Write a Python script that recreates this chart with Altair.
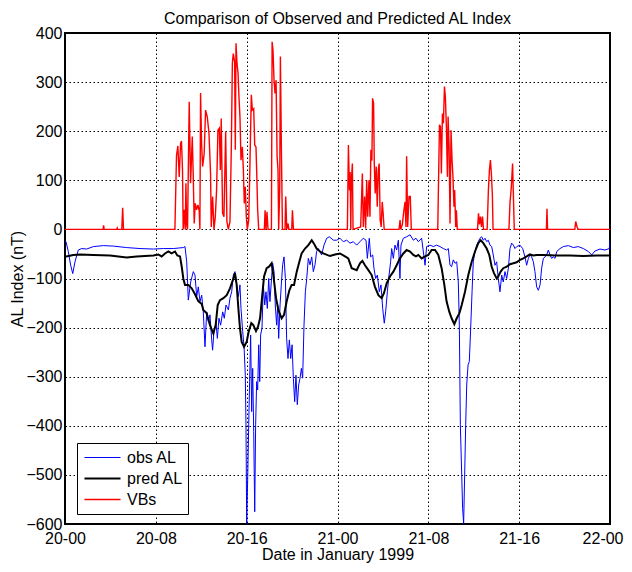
import altair as alt
import pandas as pd

# ---- data (hours since 20-00, nT) ----
obs_t = [0.00, 0.09, 0.29, 0.50, 0.68, 0.88, 1.17, 1.47, 1.91, 2.50, 3.38, 4.26, 5.43, 6.61, 7.78, 8.66,
         9.25, 9.54, 10.42, 10.57, 10.72, 10.86, 11.07, 11.30, 11.45, 11.60, 11.74, 11.89, 12.04, 12.18,
         12.33, 12.48, 12.63, 12.77, 12.92, 13.00, 13.12, 13.30, 13.42, 13.56, 13.71, 13.89, 14.03, 14.18,
         14.39, 14.53, 14.68, 14.83, 14.97, 15.12, 15.27, 15.41, 15.50, 15.65, 15.77, 15.88, 15.94, 16.00,
         16.09, 16.18, 16.26, 16.35, 16.44, 16.53, 16.62, 16.71, 16.79, 16.88, 16.97, 17.06, 17.15, 17.23,
         17.35, 17.47, 17.59, 17.70, 17.82, 17.94, 18.05, 18.17, 18.29, 18.41, 18.52, 18.64, 18.73, 18.82,
         18.94, 19.05, 19.17, 19.29, 19.41, 19.52, 19.64, 19.76, 19.88, 20.00, 20.11, 20.23, 20.34, 20.46,
         20.58, 20.70, 20.82, 20.93, 21.05, 21.17, 21.29, 21.43, 21.58, 21.73, 21.87, 22.02, 22.16, 22.31,
         22.60, 22.81, 23.05, 23.28, 23.64, 23.93, 24.22, 24.51, 24.81, 25.10, 25.39, 25.69, 25.98, 26.27,
         26.51, 26.63, 26.80, 26.92, 27.10, 27.21, 27.36, 27.51, 27.68, 27.83, 27.98, 28.12, 28.24, 28.39,
         28.54, 28.68, 28.77, 28.92, 29.06, 29.21, 29.36, 29.50, 29.59, 29.80, 30.09, 30.39, 30.68, 30.91,
         31.12, 31.41, 31.71, 31.85, 32.15, 32.44, 32.73, 33.03, 33.32, 33.61, 33.76, 33.91, 34.05, 34.20,
         34.35, 34.50, 34.64, 34.73, 34.82, 34.94, 35.02, 35.11, 35.20, 35.29, 35.38, 35.50, 35.61, 35.73,
         35.85, 35.96, 36.11, 36.26, 36.40, 36.55, 36.70, 36.84, 36.99, 37.14, 37.28, 37.43, 37.58, 37.72,
         37.87, 38.02, 38.16, 38.31, 38.46, 38.60, 38.75, 38.90, 39.05, 39.19, 39.34, 39.49, 39.63, 39.78,
         40.07, 40.31, 40.51, 40.66, 40.81, 40.95, 41.10, 41.25, 41.39, 41.54, 41.69, 41.84, 41.98, 42.13,
         42.28, 42.42, 42.57, 42.72, 42.86, 43.01, 43.16, 43.31, 43.60, 43.89, 44.33, 44.77, 45.21, 45.65,
         46.09, 46.39, 46.68, 47.12, 47.56, 47.94, 48.00]
obs_v = [-25, -25, -45, -73, -90, -66, -42, -39, -40, -35, -33, -34, -37, -39, -40, -39,
         -39, -39, -37, -35, -66, -144, -107, -86, -93, -137, -117, -147, -134, -168,
         -239, -168, -188, -174, -225, -246, -208, -191, -222, -181, -195, -168, -181, -154,
         -164, -140, -127, -93, -86, -113, -137, -113, -161, -208, -239, -297, -398, -599,
         -507, -398, -310, -215, -371, -283, -412, -575, -398, -310, -327, -235, -310, -215,
         -201, -113, -154, -127, -161, -100, -147, -107, -69, -86, -154, -195, -154, -222,
         -154, -113, -72, -56, -100, -222, -263, -225, -263, -235, -303, -351, -297, -357,
         -317, -303, -283, -303, -195, -127, -100, -59, -72, -56, -86, -72, -45, -39,
         -52, -32, -18, -15, -22, -22, -18, -25, -22, -28, -25, -32, -25, -18,
         -22, -59, -18, -56, -52, -79, -100, -93, -127, -113, -161, -191, -168, -127,
         -93, -66, -39, -59, -32, -42, -22, -100, -32, -18, -15, -11, -22, -18,
         -25, -18, -73, -35, -32, -35, -32, -35, -39, -42, -39, -73, -76, -62,
         -69, -66, -107, -195, -398, -500, -568, -599, -500, -398, -317, -276, -269, -201,
         -127, -66, -45, -32, -25, -18, -15, -22, -18, -25, -22, -32, -35, -52,
         -73, -66, -100, -127, -93, -107, -86, -100, -79, -39, -28, -32, -39, -35,
         -32, -39, -56, -73, -59, -52, -56, -66, -86, -117, -124, -113, -79, -59,
         -56, -52, -42, -52, -59, -56, -59, -45, -39, -35, -33, -37, -35, -39,
         -45, -52, -44, -40, -42, -39, -22]

pred_t = [0.00, 0.73, 1.32, 2.50, 3.96, 5.43, 6.31, 7.78, 8.22, 8.51, 8.81, 9.10, 9.39, 9.69, 9.89,
          10.13, 10.28, 10.42, 10.57, 10.86, 11.16, 11.45, 11.74, 12.04, 12.18, 12.48, 12.77, 13.06,
          13.27, 13.45, 13.65, 13.95, 14.24, 14.53, 14.83, 14.97, 15.12, 15.27, 15.41, 15.56, 15.77,
          16.00, 16.18, 16.41, 16.59, 16.82, 17.00, 17.18, 17.35, 17.53, 17.76, 17.97, 18.20, 18.35,
          18.59, 18.79, 19.08, 19.29, 19.52, 19.76, 19.96, 20.17, 20.41, 20.64, 20.84, 21.14, 21.43,
          21.73, 21.93, 22.16, 22.46, 22.75, 23.19, 23.34, 23.78, 24.22, 24.66, 24.95, 25.25, 25.69,
          25.98, 26.19, 26.42, 26.72, 27.01, 27.30, 27.60, 27.89, 28.09, 28.33, 28.62, 28.92, 29.21,
          29.50, 29.80, 30.09, 30.39, 30.68, 30.91, 31.12, 31.41, 31.71, 32.00, 32.29, 32.59, 32.88,
          33.17, 33.41, 33.61, 33.85, 34.05, 34.29, 34.50, 34.73, 34.94, 35.23, 35.52, 35.82, 36.11,
          36.40, 36.61, 36.84, 37.14, 37.37, 37.58, 37.78, 38.02, 38.16, 38.37, 38.60, 38.90, 39.19,
          39.49, 39.78, 40.07, 40.37, 40.66, 40.95, 41.25, 41.54, 42.13, 43.31, 44.48, 45.65, 46.82,
          48.00]
pred_v = [-56, -52, -51, -52, -53, -57, -55, -53, -51, -55, -49, -45, -49, -45, -53,
          -55, -76, -100, -113, -113, -120, -132, -146, -152, -164, -171, -195, -212,
          -195, -154, -144, -140, -134, -120, -100, -89, -113, -161, -201, -229, -239,
          -229, -208, -191, -195, -207, -198, -181, -140, -96, -79, -76, -69, -93,
          -140, -164, -181, -174, -147, -124, -113, -113, -86, -66, -49, -39, -32,
          -22, -29, -39, -45, -49, -53, -54, -51, -49, -55, -59, -79, -83,
          -69, -64, -73, -83, -93, -117, -134, -140, -130, -110, -96, -86, -73,
          -59, -49, -42, -45, -52, -55, -52, -59, -55, -52, -42, -42, -52,
          -79, -113, -147, -168, -181, -193, -181, -171, -154, -127, -93, -66, -45,
          -28, -22, -28, -39, -52, -76, -89, -100, -96, -86, -79, -76, -71,
          -69, -67, -62, -59, -55, -51, -53, -52, -52, -53, -53, -54, -53,
          -53]

vbs_t = [0.00, 3.35, 3.40, 3.45, 4.55, 4.60, 4.65, 5.00, 5.08, 5.15,
         9.68, 9.82, 9.94, 10.06, 10.18, 10.26, 10.35, 10.41, 10.50, 10.59, 10.65, 10.71, 10.79,
         10.94, 11.06, 11.21, 11.29, 11.38, 11.47, 11.59, 11.71, 11.82, 11.88, 11.94, 12.03, 12.12,
         12.26, 12.38, 12.53, 12.68, 12.82, 12.88, 13.00, 13.12, 13.24, 13.35, 13.47, 13.59, 13.68,
         13.76, 13.88, 14.00, 14.15, 14.26, 14.38, 14.53, 14.65, 14.74, 14.82, 14.94, 15.00, 15.06,
         15.15, 15.24, 15.32, 15.41, 15.50, 15.62, 15.71, 15.79, 15.88, 15.97, 16.06, 16.18, 16.29,
         16.41, 16.50, 16.62, 16.71, 16.82, 16.88, 16.97, 17.06, 17.56, 17.62, 17.71, 17.79, 17.88,
         18.18, 18.24, 18.32, 18.41, 18.50, 18.59, 18.68, 18.76, 18.82, 18.91, 18.97, 19.06, 19.15,
         19.38, 19.44, 19.53, 19.65, 19.71, 19.97, 20.03, 20.12,
         24.87, 24.96, 25.05, 25.11, 25.17, 25.22, 25.31, 25.37,
         26.04, 26.19, 26.27, 26.39, 26.48, 26.57, 26.66, 26.77, 26.86, 26.94, 27.03, 27.09, 27.18,
         27.24, 27.32, 27.41, 27.50, 27.59, 27.67, 27.76, 27.85, 27.94, 28.02, 28.11,
         29.42, 29.51, 29.57, 29.71, 29.83, 29.95, 30.03, 30.09, 30.18, 30.30, 30.41, 30.50,
         32.83, 32.98, 33.07, 33.15, 33.24, 33.33, 33.42, 33.50, 33.59, 33.68, 33.74, 33.83, 33.91,
         34.00, 34.09, 34.17, 34.26, 34.32, 34.41, 34.47, 34.55,
         36.33, 36.42, 36.50, 36.59, 36.68, 36.77, 36.86,
         37.18, 37.29, 37.38, 37.47, 37.55, 37.64, 37.70,
         39.10, 39.19, 39.31, 39.42, 39.51, 39.57,
         42.40, 42.45, 42.50, 44.90, 44.98, 45.10, 45.20, 48.00]
vbs_v = [0, 0, 8, 0, 0, 3, 0, 0, 44, 0,
         0, 150, 170, 107, 175, 180, 120, 0, 40, 0, 94, 10, 0,
         260, 94, 189, 114, 12, 53, 40, 50, 38, 0, 278, 175, 128,
         155, 243, 229, 196, 114, 5, 67, 0, 26, 80, 202, 206, 121,
         226, 33, 26, 199, 16, 0, 16, 168, 338, 358, 341, 162, 379,
         338, 318, 270, 229, 141, 168, 121, 53, 87, 26, 0, 19, 134,
         274, 243, 246, 172, 168, 121, 39, 0, 0, 39, 0, 36, 0,
         0, 382, 365, 304, 277, 304, 148, 121, 0, 80, 352, 162, 0,
         0, 67, 0, 12, 0, 0, 39, 0,
         0, 172, 80, 117, 0, 100, 134, 0,
         5, 114, 5, 67, 2, 100, 26, 100, 26, 162, 140, 267, 257,
         134, 73, 128, 46, 121, 134, 19, 5, 56, 33, 0,
         0, 19, 0, 10, 36, 56, 5, 149, 5, 67, 67, 0,
         0, 213, 209, 114, 236, 216, 291, 270, 209, 107, 230, 168, 12,
         202, 141, 107, 46, 80, 5, 39, 0,
         0, 33, 10, 26, 5, 26, 0,
         0, 80, 121, 141, 114, 70, 0,
         0, 53, 87, 134, 53, 0,
         0, 42, 0, 0, 16, 5, 0, 0]

series_names = ["obs AL", "pred AL", "VBs"]
series_colors = ["#0000ff", "#000000", "#ff0000"]
series_widths = [1.0, 2.0, 1.4]

tick_hours = [0, 8, 16, 24, 32, 40, 48]
tick_labels = ["20-00", "20-08", "20-16", "21-00", "21-08", "21-16", "22-00"]
y_ticks = [-600, -500, -400, -300, -200, -100, 0, 100, 200, 300, 400]

FONT = "Liberation Sans"

df = pd.concat([
    pd.DataFrame({"hour": obs_t, "value": obs_v, "series": series_names[0]}),
    pd.DataFrame({"hour": pred_t, "value": pred_v, "series": series_names[1]}),
    pd.DataFrame({"hour": vbs_t, "value": vbs_v, "series": series_names[2]}),
], ignore_index=True)

label_expr = "[" + ",".join("'%s'" % s for s in tick_labels) + "][round(datum.value / 8)]"

legend = alt.Legend(
    title=None, orient="none", legendX=12, legendY=410,
    strokeColor="black", fillColor="white", padding=4, cornerRadius=0,
    symbolType="stroke", symbolSize=1300, symbolOffset=2,
    labelFont=FONT, labelFontSize=16,
    labelColor="black", labelOffset=5, rowPadding=0, clipHeight=21,
)

x = alt.X("hour:Q", scale=alt.Scale(domain=[0, 48], nice=False, zero=False),
          axis=alt.Axis(values=tick_hours, labelExpr=label_expr, title="Date in January 1999",
                        labelFlush=False, labelPadding=6, titlePadding=0,
                        labelAlign={"condition": {"test": "datum.value >= 48", "value": "right"},
                                    "value": "center"},
                        labelOffset={"condition": {"test": "datum.value >= 48", "value": 13},
                                     "value": 0}))
y = alt.Y("value:Q", scale=alt.Scale(domain=[-600, 400], nice=False),
          axis=alt.Axis(values=y_ticks, title="AL Index (nT)", labelPadding=3, titlePadding=0))
color = alt.Color("series:N", scale=alt.Scale(domain=series_names, range=series_colors), legend=legend)
sw = alt.StrokeWidth("series:N", scale=alt.Scale(type="ordinal", domain=series_names, range=series_widths),
                     legend=legend)

base = alt.Chart(df)

def layer(name):
    return base.transform_filter(alt.datum.series == name).mark_line(clip=True).encode(
        x=x, y=y, color=color, strokeWidth=sw, order="hour:Q")

chart = alt.layer(layer("VBs"), layer("obs AL"), layer("pred AL")).properties(
    width=545, height=491,
    background="white",
    autosize=alt.AutoSizeParams(type="none"),
    padding={"left": 57, "top": 25, "right": 14, "bottom": 40},
    title=alt.TitleParams("Comparison of Observed and Predicted AL Index", font=FONT,
                          fontSize=16, fontWeight="normal", color="black", offset=-2),
).configure_view(
    stroke="black", strokeWidth=2
).configure_axis(
    labelFont=FONT, titleFont=FONT, labelFontSize=16, titleFontSize=16,
    titleFontWeight="normal", labelColor="black", titleColor="black",
    grid=True, gridColor="black", gridDash=[1.5, 2.5], gridOpacity=1, gridWidth=1,
    ticks=False, domain=False,
)

chart.save("out.html", embed_options={"renderer": "svg", "actions": False})
